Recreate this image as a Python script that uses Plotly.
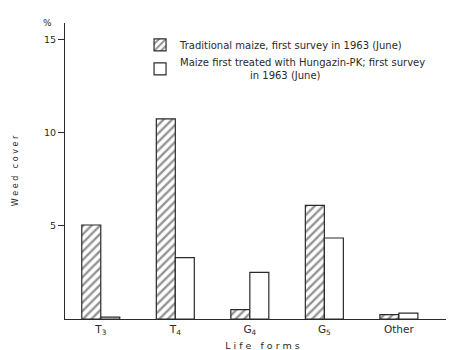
import plotly.graph_objects as go

categories = ["T<sub>3</sub>", "T<sub>4</sub>", "G<sub>4</sub>", "G<sub>5</sub>", "Other"]
traditional = [5.05, 10.75, 0.5, 6.1, 0.23]
hungazin = [0.1, 3.3, 2.5, 4.35, 0.32]
series_names = [
    "Traditional maize, first survey in 1963 (June)",
    "Maize first treated with Hungazin-PK; first survey<br>                      in 1963 (June)",
]
y_ticks = [5, 10, 15]

font_family = "DejaVu Sans"
ink = "#2a2a2a"

fig = go.Figure()
fig.add_trace(go.Bar(
    x=categories, y=traditional, name=series_names[0], legendgroup="a",
    marker=dict(color="white", line=dict(color=ink, width=1.2),
                pattern=dict(shape="/", fgcolor=ink, bgcolor="white", size=6, solidity=0.4)),
))
fig.add_trace(go.Bar(
    x=categories, y=hungazin, name=series_names[1], legendgroup="b",
    marker=dict(color="white", line=dict(color=ink, width=1.2)),
))

fig.update_layout(
    width=454, height=350,
    margin=dict(l=57, r=2, t=15, b=39),
    paper_bgcolor="white", plot_bgcolor="white",
    barmode="group", bargap=0.49, bargroupgap=0,
    font=dict(family=font_family, size=9, color=ink),
    showlegend=True,
    legend=dict(x=0.19, y=0.975, xanchor="left", yanchor="top",
                bgcolor="rgba(0,0,0,0)", font=dict(size=10, color=ink),
                tracegroupgap=9, traceorder="normal"),
    xaxis=dict(
        range=[-0.48, 4.82], showline=True, linecolor=ink, linewidth=1.2,
        ticks="", showgrid=False, zeroline=False,
        tickfont=dict(size=10.5, color=ink),
        title=dict(text="L i f e   f o r m s", font=dict(size=9.5, color=ink), standoff=6),
    ),
    yaxis=dict(
        range=[0, 15.9], showline=True, linecolor=ink, linewidth=1.2,
        tickvals=y_ticks, ticktext=[str(v) for v in y_ticks],
        ticks="outside", ticklen=6, tickcolor=ink, showgrid=False, zeroline=False,
        tickfont=dict(size=9.5, color=ink),
        title=dict(text="W e e d   c o v e r", font=dict(size=8, color=ink), standoff=24),
    ),
    annotations=[dict(text="%", xref="paper", yref="paper", x=-0.045, y=1.0,
                      xanchor="center", yanchor="middle", showarrow=False,
                      font=dict(size=9, color=ink))],
)

fig.write_html("out.html")
